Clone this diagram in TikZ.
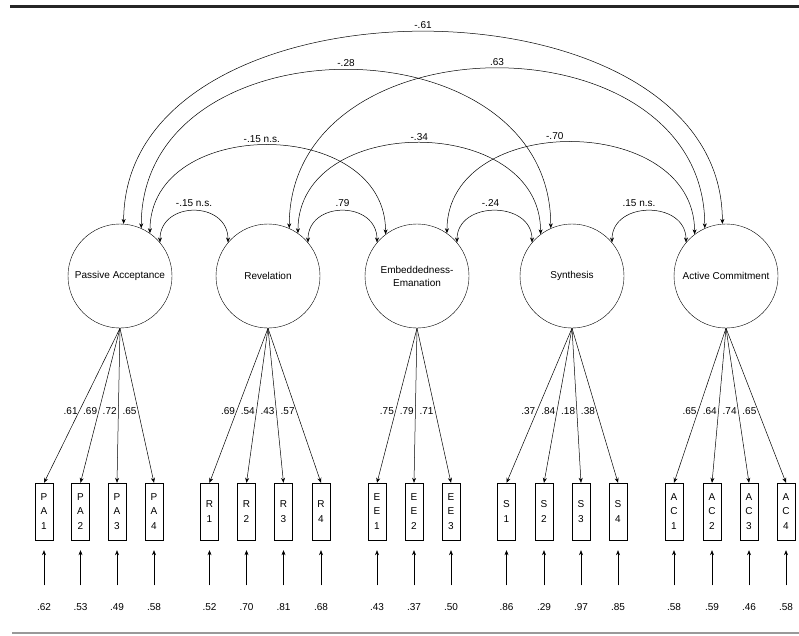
\documentclass[tikz,border=0pt]{standalone}
\usepackage{fontspec}
\setmainfont{Liberation Sans}
\usetikzlibrary{arrows.meta,positioning}

\begin{document}
\begin{tikzpicture}[
    x=1pt, y=-1pt,
    factor/.style={circle, draw, minimum size=104pt, inner sep=1pt, align=center, font=\fontsize{10}{13}\selectfont},
    item/.style={rectangle, draw, minimum width=18pt, minimum height=57pt, inner sep=0pt, align=center, font=\fontsize{10}{14.7}\selectfont},
    arrow/.style={-{Stealth[length=5pt,width=4pt]}, line width=0.5pt},
    cov/.style={{Stealth[length=5pt,width=4pt]}-{Stealth[length=5pt,width=4pt]}, line width=0.5pt},
    num/.style={font=\fontsize{10}{12}\selectfont, inner sep=1pt}
]
    \useasboundingbox (0,0) rectangle (799,635);

    % Rules of the table
    \draw[line width=3pt, black!85] (10,6) -- (799,6);
    \draw[line width=1.2pt, black!40] (12,633) -- (799,633);

    % Latent factors
    \node[factor] (pa) at (120,276) {Passive Acceptance};
    \node[factor] (rv) at (268,276) {Revelation};
    \node[factor] (ee) at (417,276) {Embeddedness-\\Emanation};
    \node[factor] (sy) at (572,276) {Synthesis};
    \node[factor] (ac) at (726,276) {Active Commitment};

    % Indicators, loadings and residuals
    \foreach \name/\x/\txt/\load/\res/\f in {
        pa1/44/{P\\A\\1}/.61/.62/pa, pa2/80.5/{P\\A\\2}/.69/.53/pa, pa3/117/{P\\A\\3}/.72/.49/pa, pa4/154/{P\\A\\4}/.65/.58/pa,
        rv1/209.5/{R\\1}/.69/.52/rv, rv2/246.5/{R\\2}/.54/.70/rv, rv3/283.5/{R\\3}/.43/.81/rv, rv4/321/{R\\4}/.57/.68/rv,
        ee1/377/{E\\E\\1}/.75/.43/ee, ee2/414/{E\\E\\2}/.79/.37/ee, ee3/451/{E\\E\\3}/.71/.50/ee,
        sy1/506.5/{S\\1}/.37/.86/sy, sy2/544/{S\\2}/.84/.29/sy, sy3/581/{S\\3}/.18/.97/sy, sy4/618/{S\\4}/.38/.85/sy,
        ac1/674/{A\\C\\1}/.65/.58/ac, ac2/712/{A\\C\\2}/.64/.59/ac, ac3/749/{A\\C\\3}/.74/.46/ac, ac4/786/{A\\C\\4}/.65/.58/ac} {
        \node[item] (\name) at (\x,511.5) {\txt};
        \draw[arrow] (\f.south) -- (\name.north) node[num, pos=0.535, anchor=east, inner sep=1.5pt] {\load};
        \node[num] (\name-e) at (\x,607) {\res};
        \draw[arrow, shorten <=17pt, shorten >=10pt] (\name-e) -- (\name);
    }

    % Correlations between factors
    \draw[cov] (pa.86) .. controls +(0,-256) and +(0,-256) .. (ac.94) node[num, midway, above=2pt] {-.61};
    \draw[cov] (pa.66) .. controls +(0,-211) and +(0,-211) .. (sy.114) node[num, midway, above=2pt] {-.28};
    \draw[cov] (rv.66) .. controls +(0,-213) and +(0,-213) .. (ac.114) node[num, midway, above=2pt] {.63};
    \draw[cov] (pa.55) .. controls +(0,-118) and +(0,-118) .. (ee.127) node[num, midway, above=1pt, xshift=-6pt] {-.15 n.s.};
    \draw[cov] (rv.55) .. controls +(0,-121) and +(0,-121) .. (sy.127) node[num, midway, above=1pt] {-.34};
    \draw[cov] (ee.55) .. controls +(0,-122) and +(0,-122) .. (ac.127) node[num, midway, above=1pt, xshift=-16pt] {-.70};
    \draw[cov] (pa.40) .. controls +(0,-42) and +(0,-42) .. (rv.140) node[num, midway, above=3pt] {-.15 n.s.};
    \draw[cov] (rv.40) .. controls +(0,-42) and +(0,-42) .. (ee.140) node[num, midway, above=3pt] {.79};
    \draw[cov] (ee.40) .. controls +(0,-42) and +(0,-42) .. (sy.140) node[num, midway, above=3pt, xshift=-4pt] {-.24};
    \draw[cov] (sy.40) .. controls +(0,-42) and +(0,-42) .. (ac.140) node[num, midway, above=3pt, xshift=-10pt] {.15 n.s.};
\end{tikzpicture}
\end{document}
